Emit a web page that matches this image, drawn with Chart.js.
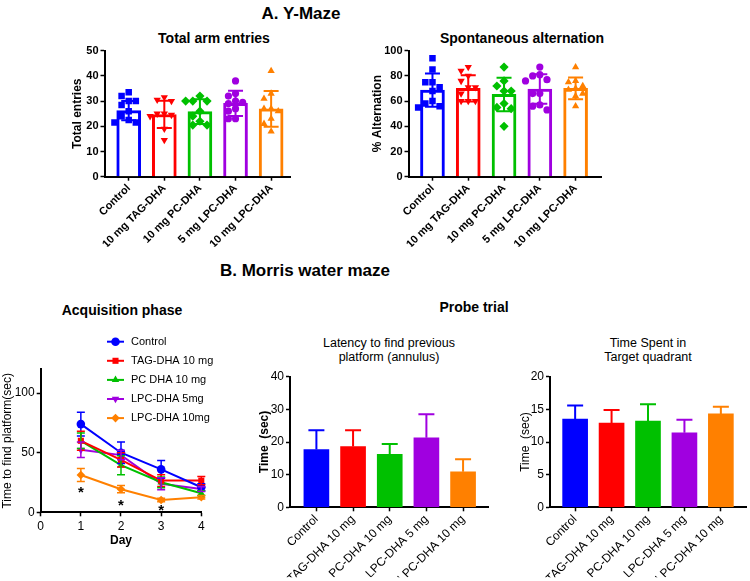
<!DOCTYPE html>
<html><head><meta charset="utf-8">
<script src="https://cdn.jsdelivr.net/npm/chart.js@4/dist/chart.umd.min.js"></script>
<style>
html,body{margin:0;padding:0;background:#fff}
body{width:750px;height:581px;position:relative;overflow:hidden;font-family:"Liberation Sans",Arial,sans-serif;color:#000}
canvas{position:absolute;left:0;top:0}
.t{position:absolute;white-space:nowrap;transform:translate(-50%,-50%);text-align:center;line-height:1}
.b{font-weight:bold}
</style></head><body>
<div class="t b" style="left:301px;top:13px;font-size:17px">A. Y-Maze</div>
<div class="t b" style="left:214px;top:38px;font-size:14px">Total arm entries</div>
<div class="t b" style="left:522px;top:38px;font-size:14px">Spontaneous alternation</div>
<div class="t b" style="left:305px;top:270px;font-size:17px">B. Morris water maze</div>
<div class="t b" style="left:122px;top:310px;font-size:14px">Acquisition phase</div>
<div class="t b" style="left:474px;top:307px;font-size:14px">Probe trial</div>
<div class="t" style="left:389px;top:343px;font-size:12.5px">Latency to find previous</div>
<div class="t" style="left:389px;top:357px;font-size:12.5px">platform (annulus)</div>
<div class="t" style="left:648px;top:343px;font-size:12.5px">Time Spent in</div>
<div class="t" style="left:648px;top:357px;font-size:12.5px">Target quadrant</div>
<canvas id="c1" width="750" height="581"></canvas>
<canvas id="c2" width="750" height="581"></canvas>
<canvas id="c3" width="750" height="581"></canvas>
<canvas id="c4" width="750" height="581"></canvas>
<canvas id="c5" width="750" height="581"></canvas>
<script>
// ---------------- data ----------------
const COLORS = ['#0000FF', '#FF0000', '#00C000', '#A000E0', '#FF8000'];

const ymazeGroups = ['Control', '10 mg TAG-DHA', '10 mg PC-DHA', '5 mg LPC-DHA', '10 mg LPC-DHA'];
const ymazeMarkers = ['rect', 'triangle', 'rectRot', 'circle', 'triangle'];
const ymazeMarkerRot = [0, 180, 0, 0, 0];

const entriesMean = [26.2, 24.7, 25.8, 29.1, 26.9];
const entriesSD = [3.8, 5.4, 4.9, 5.0, 7.1];
const entriesControl = [33.5, 32, 30, 30, 28.5, 26, 24, 22.5, 21.5, 21.5];
const entriesTAG = [31.5, 30.5, 30, 25, 25, 24.5, 24, 19, 14.5];
const entriesPC = [32, 30, 30, 30, 26, 24, 22, 20.5, 20.5];
const entriesLPC5 = [38, 33, 32, 30, 29.5, 29, 27, 26, 23, 23];
const entriesLPC10 = [42, 33, 31, 27, 27, 26, 23, 21, 18];
const entriesPoints = [entriesControl, entriesTAG, entriesPC, entriesLPC5, entriesLPC10];

const altMean = [68.8, 70.1, 65.3, 69.6, 70.1];
const altSD = [13.2, 10.4, 13.3, 11.7, 8.6];
const altControl = [94, 85, 75, 75, 71, 68, 60, 58, 56, 55];
const altTAG = [87, 84, 80, 76, 71, 71, 66, 60, 60, 60];
const altPC = [87, 76, 72, 68, 68, 58, 55, 54, 40];
const altLPC5 = [87, 81, 80, 77, 76, 66, 66, 57, 56, 53];
const altLPC10 = [87, 76, 75, 72, 70, 69, 66, 64, 56];
const altPoints = [altControl, altTAG, altPC, altLPC5, altLPC10];

const days = [1, 2, 3, 4];
const acqSeries = ['Control', 'TAG-DHA 10 mg', 'PC DHA 10 mg', 'LPC-DHA 5mg', 'LPC-DHA 10mg'];
const acqMarkers = ['circle', 'rect', 'triangle', 'triangle', 'rectRot'];
const acqMarkerRot = [0, 0, 0, 180, 0];
const acqControl = [74, 50, 36, 21];
const acqTAG = [60, 44, 26.6, 26.6];
const acqPC = [60, 39.5, 25.2, 16];
const acqLPC5 = [52.4, 48, 24, 19.5];
const acqLPC10 = [31.3, 19.4, 10.3, 12.6];
const acqValues = [acqControl, acqTAG, acqPC, acqLPC5, acqLPC10];
const acqErrControl = [10, 9, 7.5, 3];
const acqErrTAG = [8, 6, 5, 3.5];
const acqErrPC = [6.5, 8, 4.5, 2];
const acqErrLPC5 = [6.5, 4, 5, 2];
const acqErrLPC10 = [5.5, 3, 1.5, 1.5];
const acqErrors = [acqErrControl, acqErrTAG, acqErrPC, acqErrLPC5, acqErrLPC10];
const starDays = [1, 2, 3];
const starValues = [19.3, 8.9, 4.7];

const probeGroups = ['Control', 'TAG-DHA 10 mg', 'PC-DHA 10 mg', 'LPC-DHA 5 mg', 'LPC-DHA 10 mg'];
const latencyMean = [17.7, 18.6, 16.2, 21.3, 10.9];
const latencyErr = [5.9, 5.0, 3.2, 7.2, 3.8];
const quadrantMean = [13.5, 12.9, 13.2, 11.4, 14.3];
const quadrantErr = [2.1, 2.0, 2.6, 2.0, 1.1];

// ---------------- helpers ----------------
Chart.defaults.font.family = '"Liberation Sans", Arial, sans-serif';
Chart.defaults.color = '#000';
Chart.defaults.animation = false;

function frame(o) {
  const lh = o.ytSize * 1.2;
  const left = o.ytx - lh / 2;
  return {
    padding: { left: left, top: o.t, right: 750 - o.r, bottom: 581 - o.b - o.xH },
    yFit: s => { s.width = o.l - left; },
    xFit: s => { s.height = o.xH; }
  };
}

// beeswarm-like horizontal spreading of close values (deterministic)
function swarm(vals, thr, step) {
  const placed = [];
  const order = [0, -1, 1, -2, 2, -3, 3];
  return vals.map(v => {
    for (const k of order) {
      if (!placed.some(p => p.k === k && Math.abs(p.v - v) < thr)) {
        placed.push({ k, v });
        return k * step;
      }
    }
    return 0;
  });
}

const errPlugin = {
  id: 'errbars',
  afterDatasetsDraw(chart, args, opts) {
    const ctx = chart.ctx, xs = chart.scales.x, ys = chart.scales.y;
    ctx.save();
    ctx.lineWidth = opts.lineWidth || 2;
    const cap = opts.cap || 6;
    for (const it of (opts.items || [])) {
      const px = xs.getPixelForValue(it.x);
      const pTop = ys.getPixelForValue(it.hi);
      const pBot = ys.getPixelForValue(it.lo);
      ctx.strokeStyle = it.color;
      ctx.beginPath();
      ctx.moveTo(px, pBot); ctx.lineTo(px, pTop);
      ctx.moveTo(px - cap, pTop); ctx.lineTo(px + cap, pTop);
      if (it.lowCap) { ctx.moveTo(px - cap, pBot); ctx.lineTo(px + cap, pBot); }
      ctx.stroke();
    }
    ctx.restore();
  }
};

function yAxisOpts(f, o) {
  return {
    type: 'linear', min: o.min, max: o.max,
    ticks: { stepSize: o.step, includeBounds: false, font: o.tickFont, padding: 2 },
    grid: { display: true, drawOnChartArea: false, drawTicks: true, tickLength: 4, tickWidth: 1.5, tickColor: '#000' },
    border: { display: true, color: '#000', width: 2 },
    title: { display: true, text: o.title, font: o.titleFont, padding: 0, color: '#000' },
    afterFit: f.yFit
  };
}

function xCatAxisOpts(f, labels, min, max, font) {
  return {
    type: 'linear', min: min, max: max, offset: false,
    afterBuildTicks: s => { s.ticks = labels.map((_, i) => ({ value: i })); },
    ticks: { autoSkip: false, minRotation: 45, maxRotation: 45, font: font, padding: 1,
             callback: v => labels[Math.round(v)] },
    grid: { display: true, offset: false, drawOnChartArea: false, drawTicks: true, tickLength: 4, tickWidth: 1.5, tickColor: '#000' },
    border: { display: true, color: '#000', width: 2 },
    afterFit: f.xFit
  };
}

// ---------------- Y-maze charts ----------------
function ymazeChart(id, f, mean, sd, pts, xmin, xmax, yo, thr) {
  const datasets = [{
    type: 'bar',
    data: mean.map((v, i) => ({ x: i, y: v })),
    backgroundColor: '#fff',
    borderColor: COLORS,
    borderWidth: 3,
    borderSkipped: 'start',
    barThickness: 24,
    order: 5
  }];
  pts.forEach((vals, g) => {
    const offs = swarm(vals, thr, 0.2);
    datasets.push({
      type: 'scatter',
      data: vals.map((v, j) => ({ x: g + offs[j], y: v })),
      pointStyle: ymazeMarkers[g],
      pointRotation: ymazeMarkerRot[g],
      pointRadius: ymazeMarkers[g] === 'circle' ? 3.6 : (ymazeMarkers[g] === 'triangle' ? 4.2 : 4.6),
      pointBackgroundColor: COLORS[g],
      pointBorderWidth: 0,
      order: 1
    });
  });
  const items = mean.map((m, i) => ({ x: i, hi: m + sd[i], lo: m - sd[i], color: COLORS[i], lowCap: true }));
  return new Chart(document.getElementById(id), {
    type: 'bar',
    data: { datasets },
    options: {
      responsive: false, animation: false, devicePixelRatio: 1,
      layout: { padding: f.padding },
      plugins: { legend: { display: false }, tooltip: { enabled: false },
                 errbars: { items, cap: 7.5, lineWidth: 2 } },
      scales: {
        x: xCatAxisOpts(f, ymazeGroups, xmin, xmax, { size: 11, weight: 'bold' }),
        y: yAxisOpts(f, yo)
      }
    },
    plugins: [errPlugin]
  });
}

const f1 = frame({ l: 104.5, t: 50.7, r: 290, b: 176.7, ytx: 78, ytSize: 12, xH: 70 });
ymazeChart('c1', f1, entriesMean, entriesSD, entriesPoints, -0.68, 4.53,
  { min: 0, max: 50, step: 10, title: 'Total entries', tickFont: { size: 11, weight: 'bold' }, titleFont: { size: 12, weight: 'bold' } }, 2.6);

const f2 = frame({ l: 408.5, t: 50.7, r: 601, b: 176.7, ytx: 378, ytSize: 12, xH: 70 });
ymazeChart('c2', f2, altMean, altSD, altPoints, -0.67, 4.71,
  { min: 0, max: 100, step: 20, title: '% Alternation', tickFont: { size: 11, weight: 'bold' }, titleFont: { size: 12, weight: 'bold' } }, 5.2);

// ---------------- Acquisition ----------------
const legendPlugin = {
  id: 'acqLegend',
  afterDraw(chart, args, opts) {
    const ctx = chart.ctx;
    ctx.save();
    acqSeries.forEach((name, i) => {
      const y = opts.y0 + i * opts.dy;
      ctx.strokeStyle = COLORS[i]; ctx.lineWidth = 2;
      ctx.beginPath(); ctx.moveTo(opts.x0, y); ctx.lineTo(opts.x1, y); ctx.stroke();
      ctx.fillStyle = COLORS[i];
      Chart.helpers.drawPoint(ctx, { pointStyle: acqMarkers[i], rotation: acqMarkerRot[i], radius: 4.3, borderWidth: 0 },
        (opts.x0 + opts.x1) / 2, y);
      ctx.fillStyle = '#000';
      ctx.font = '11px "Liberation Sans", Arial, sans-serif';
      ctx.textBaseline = 'middle'; ctx.textAlign = 'left';
      ctx.fillText(name, opts.tx, y);
    });
    // significance stars
    const xs = chart.scales.x, ys = chart.scales.y;
    ctx.font = 'bold 15px "Liberation Sans", Arial, sans-serif';
    ctx.textAlign = 'center'; ctx.textBaseline = 'middle';
    starDays.forEach((d, i) => {
      ctx.fillText('*', xs.getPixelForValue(d), ys.getPixelForValue(starValues[i]) + 4);
    });
    ctx.restore();
  }
};

const f3 = frame({ l: 40.7, t: 369.3, r: 201.3, b: 512.3, ytx: 8, ytSize: 12, xH: 36 });
new Chart(document.getElementById('c3'), {
  type: 'line',
  data: {
    datasets: acqValues.map((vals, i) => ({
      data: days.map((d, j) => ({ x: d, y: vals[j] })),
      borderColor: COLORS[i], backgroundColor: COLORS[i],
      borderWidth: 2, tension: 0, clip: false,
      pointStyle: acqMarkers[i], pointRotation: acqMarkerRot[i],
      pointRadius: 4.3, pointBorderWidth: 0, pointBackgroundColor: COLORS[i],
      order: i
    }))
  },
  options: {
    responsive: false, animation: false, devicePixelRatio: 1,
    layout: { padding: f3.padding },
    plugins: {
      legend: { display: false }, tooltip: { enabled: false },
      errbars: { items: acqValues.flatMap((vals, i) => vals.map((v, j) => ({ x: days[j], hi: v + acqErrors[i][j], lo: v - acqErrors[i][j], color: COLORS[i], lowCap: true }))), cap: 4, lineWidth: 1.5 },
      acqLegend: { x0: 107, x1: 124, tx: 131, y0: 341.7, dy: 19.1 }
    },
    scales: {
      x: {
        type: 'linear', min: 0, max: 4,
        ticks: { stepSize: 1, font: { size: 12 }, padding: 3 },
        grid: { display: true, drawOnChartArea: false, drawTicks: true, tickLength: 4, tickWidth: 1.5, tickColor: '#000' },
        border: { display: true, color: '#000', width: 2 },
        title: { display: true, text: 'Day', font: { size: 12, weight: 'bold' }, padding: 0 },
        afterFit: f3.xFit
      },
      y: yAxisOpts(f3, { min: 0, max: 120, step: 50, title: 'Time to find platform(sec)', tickFont: { size: 12 }, titleFont: { size: 12 } })
    }
  },
  plugins: [errPlugin, legendPlugin]
});

// ---------------- Probe trial ----------------
function probeChart(id, f, mean, err, xmin, xmax, yo) {
  return new Chart(document.getElementById(id), {
    type: 'bar',
    data: { datasets: [{
      data: mean.map((v, i) => ({ x: i, y: v })),
      backgroundColor: COLORS, borderWidth: 0, barThickness: 25
    }] },
    options: {
      responsive: false, animation: false, devicePixelRatio: 1,
      layout: { padding: f.padding },
      plugins: { legend: { display: false }, tooltip: { enabled: false },
                 errbars: { items: mean.map((m, i) => ({ x: i, hi: m + err[i], lo: m, color: COLORS[i], lowCap: false })), cap: 8, lineWidth: 2 } },
      scales: {
        x: xCatAxisOpts(f, probeGroups, xmin, xmax, { size: 12 }),
        y: yAxisOpts(f, yo)
      }
    },
    plugins: [errPlugin]
  });
}

const f4 = frame({ l: 290, t: 376.7, r: 488, b: 507.3, ytx: 265, ytSize: 12, xH: 70 });
probeChart('c4', f4, latencyMean, latencyErr, -0.72, 4.68,
  { min: 0, max: 40, step: 10, title: 'Time  (sec)', tickFont: { size: 12 }, titleFont: { size: 12, weight: 'bold' } });

const f5 = frame({ l: 550, t: 376.7, r: 746, b: 507.3, ytx: 526, ytSize: 12, xH: 70 });
probeChart('c5', f5, quadrantMean, quadrantErr, -0.69, 4.69,
  { min: 0, max: 20, step: 5, title: 'Time  (sec)', tickFont: { size: 12 }, titleFont: { size: 12 } });
</script>
</body></html>
